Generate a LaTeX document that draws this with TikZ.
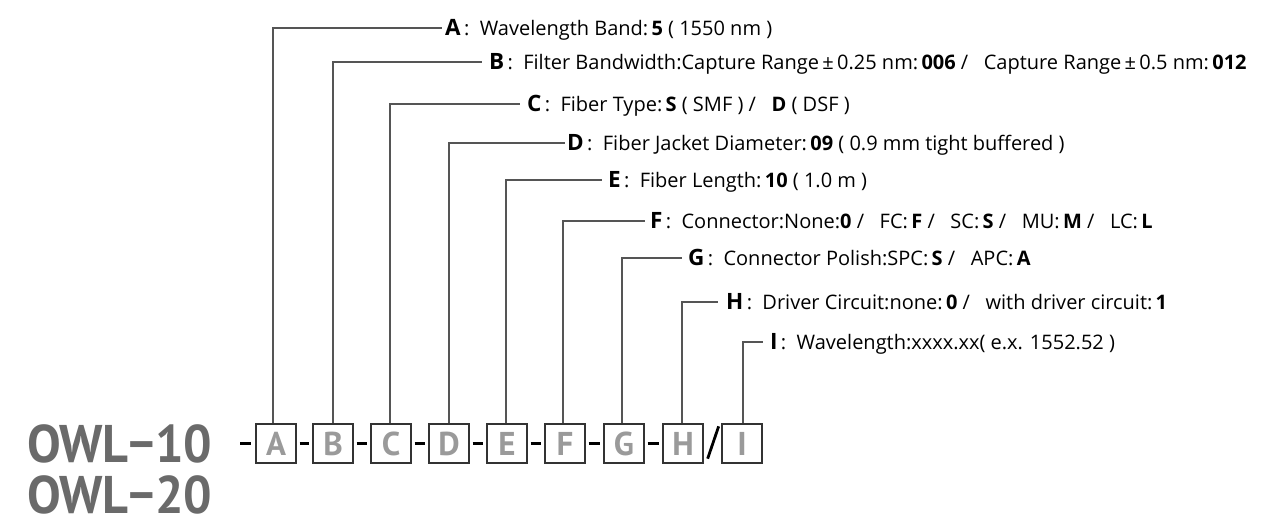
\documentclass[tikz,border=0pt]{standalone}
\usepackage{fontspec}
\setmainfont{PT Sans}
\newfontfamily\labfont{Open Sans}
\newfontfamily\owlfont[FakeStretch=0.95]{PT Sans}
\definecolor{boxletter}{HTML}{9A9A9A}
\definecolor{owlgray}{HTML}{6A6A6A}
\definecolor{conngray}{HTML}{555555}
\definecolor{boxedge}{HTML}{333333}
\newcommand{\Lt}[1]{{\fontsize{22.5}{22}\selectfont\bfseries #1}}
\begin{document}
\begin{tikzpicture}[x=1pt,y=-1pt,
  lab/.style={anchor=west, inner ysep=0pt, text height=15pt, text depth=1pt,
    font=\labfont\fontsize{20}{22}\selectfont, text=black},
  codebox/.style={draw=boxedge, line width=1.3pt, minimum width=40pt, minimum height=39pt,
    inner sep=0pt, text=boxletter, font=\fontsize{33}{33}\selectfont\bfseries},
  conn/.style={draw=conngray, line width=1.2pt},
  sep/.style={line width=2.8pt, black},
  owl/.style={anchor=west, inner sep=0pt, text=owlgray, font=\owlfont\fontsize{53}{53}\selectfont\bfseries}]
\useasboundingbox (0,0) rectangle (1287,520);
% code boxes
\node[codebox] (bA) at (276,443.5) {A};
\node[codebox] (bB) at (333,443.5) {B};
\node[codebox] (bC) at (391,443.5) {C};
\node[codebox] (bD) at (449,443.5) {D};
\node[codebox] (bE) at (507,443.5) {E};
\node[codebox] (bF) at (565,443.5) {F};
\node[codebox] (bG) at (624,443.5) {G};
\node[codebox] (bH) at (683,443.5) {H};
\node[codebox] (bI) at (742,443.5) {I};
% model names
\node[owl] (owl1) at (27,444) {OWL−10};
\node[owl] (owl2) at (27,495) {OWL−20};
% separators
\draw[sep] ([xshift=-15pt]bA.west) -- ([xshift=-4pt]bA.west);
\draw[sep] ([xshift=3pt]bA.east) -- ([xshift=-3pt]bB.west);
\draw[sep] ([xshift=3pt]bB.east) -- ([xshift=-3pt]bC.west);
\draw[sep] ([xshift=3pt]bC.east) -- ([xshift=-3pt]bD.west);
\draw[sep] ([xshift=3pt]bD.east) -- ([xshift=-3pt]bE.west);
\draw[sep] ([xshift=3pt]bE.east) -- ([xshift=-3pt]bF.west);
\draw[sep] ([xshift=3pt]bF.east) -- ([xshift=-3pt]bG.west);
\draw[sep] ([xshift=3pt]bG.east) -- ([xshift=-3pt]bH.west);
\draw[sep] ([xshift=4pt,yshift=5pt]bH.south east) -- ([xshift=15pt,yshift=-3pt]bH.north east);
% labels
\node[lab, inner xsep=3pt] (lA) at (442,28) {\Lt{A}\,:\ \ Wavelength Band:\,\textbf{5} ( 1550 nm )};
\node[lab, inner xsep=7pt] (lB) at (482,62) {\Lt{B}\,:\ \ Filter Bandwidth:Capture Range\,±\,0.25 nm:\,\textbf{006} /\ \ \ Capture Range\,±\,0.5 nm:\,\textbf{012}};
\node[lab, inner xsep=7pt] (lC) at (520,104) {\Lt{C}\,:\ \ Fiber Type:\,\textbf{S} ( SMF ) /\ \ \ \textbf{D} ( DSF )};
\node[lab, inner xsep=2pt] (lD) at (565,143) {\Lt{D}\,:\ \ Fiber Jacket Diameter:\,\textbf{09} ( 0.9 mm tight buffered )};
\node[lab, inner xsep=6pt] (lE) at (602,180) {\Lt{E}\,:\ \ Fiber Length:\,\textbf{10} ( 1.0 m )};
\node[lab, inner xsep=5pt] (lF) at (645,221) {\Lt{F}\,:\ \ Connector:None:\textbf{0} /\ \ \ FC:\,\textbf{F} /\ \ \ SC:\,\textbf{S} /\ \ \ MU:\,\textbf{M} /\ \ \ LC:\,\textbf{L}};
\node[lab, inner xsep=6pt] (lG) at (682,258) {\Lt{G}\,:\ \ Connector Polish:SPC:\,\textbf{S} /\ \ \ APC:\,\textbf{A}};
\node[lab, inner xsep=8pt] (lH) at (718,302) {\Lt{H}\,:\ \ Driver Circuit:none:\,\textbf{0} /\ \ \ with driver circuit:\,\textbf{1}};
\node[lab, inner xsep=7pt] (lI) at (763,342) {\Lt{I}\,:\ \ Wavelength:xxxx.xx( e.x. 1552.52 )};
% connectors
\draw[conn] ([xshift=-3pt]bA.north) |- (lA.west);
\draw[conn] (bB.north) |- (lB.west);
\draw[conn] ([xshift=-1pt]bC.north) |- (lC.west);
\draw[conn] (bD.north) |- (lD.west);
\draw[conn] ([xshift=-1pt]bE.north) |- (lE.west);
\draw[conn] ([xshift=-2pt]bF.north) |- (lF.west);
\draw[conn] ([xshift=-2pt]bG.north) |- (lG.west);
\draw[conn] ([xshift=-1pt]bH.north) |- (lH.west);
\draw[conn] ([xshift=1pt]bI.north) |- (lI.west);
\end{tikzpicture}
\end{document}
